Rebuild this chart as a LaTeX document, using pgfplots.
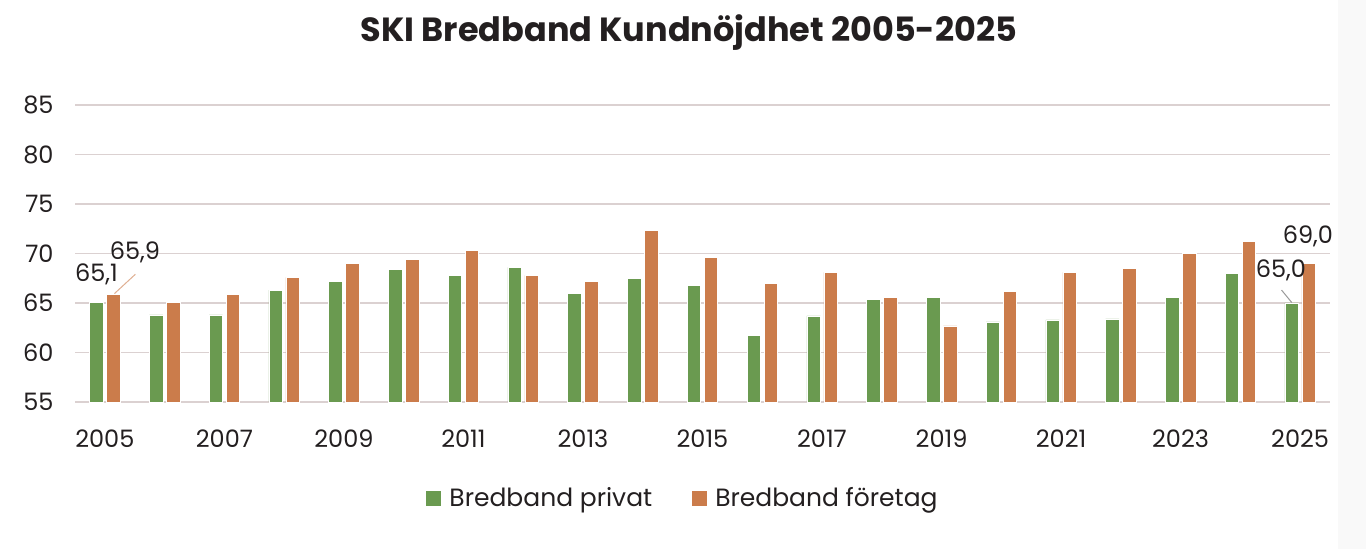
\documentclass[border=0pt]{standalone}
\usepackage{fontspec}
\setmainfont{Poppins}
\usepackage{pgfplots}
\pgfplotsset{compat=1.18}
\definecolor{cgreen}{RGB}{106,154,80}
\definecolor{corange}{RGB}{203,124,75}
\definecolor{cgrid}{RGB}{219,209,209}
\definecolor{ctext}{RGB}{35,31,32}
\begin{document}
\begin{tikzpicture}[x=1pt,y=1pt]
\path[use as bounding box] (0,0) rectangle (1366,549);
\fill[white] (0,0) rectangle (1366,549);
\fill[black!2.5] (1338,0) rectangle (1366,549);
\node[font=\fontsize{33.5}{40}\selectfont\bfseries, text=ctext] at (689,516) {SKI Bredband Kundnöjdhet 2005-2025};
\begin{axis}[
  at={(75pt,147pt)}, anchor=south west,
  scale only axis, width=1255pt, height=297pt,
  ybar=3.5pt, bar width=13.5pt,
  xmin=-0.5, xmax=20.5, ymin=55, ymax=85,
  ytick={55,60,...,85},
  xtick={0,2,...,20},
  xticklabels={2005,2007,2009,2011,2013,2015,2017,2019,2021,2023,2025},
  /pgf/number format/assume math mode=true,
  ymajorgrids, grid style={cgrid, line width=1.3pt},
  axis line style={draw=none},
  major tick length=0pt,
  tick label style={font=\fontsize{24}{28}\selectfont, text=ctext},
  yticklabel style={xshift=-18pt},
  xticklabel style={yshift=-24pt},
  legend style={at={(0.4845,-0.323)}, anchor=center, draw=none, fill=none,
    legend columns=2, font=\fontsize{25}{29}\selectfont, text=ctext,
    /tikz/every odd column/.append style={column sep=7pt},
    /tikz/every even column/.append style={column sep=38pt}},
  clip=false,
]
\addplot[fill=cgreen, draw=white, line width=0.5pt,
  legend image code/.code={\fill[cgreen] (0pt,-7pt) rectangle (13.5pt,6.5pt);}]
  coordinates {(0,65.1)(1,63.8)(2,63.8)(3,66.3)(4,67.2)(5,68.4)(6,67.8)(7,68.6)(8,66.0)(9,67.5)(10,66.8)(11,61.7)(12,63.7)(13,65.4)(14,65.6)(15,63.1)(16,63.3)(17,63.4)(18,65.6)(19,68.0)(20,65.0)};
\addplot[fill=corange, draw=white, line width=0.5pt,
  legend image code/.code={\fill[corange] (0pt,-7pt) rectangle (13.5pt,6.5pt);}]
  coordinates {(0,65.9)(1,65.1)(2,65.9)(3,67.6)(4,69.0)(5,69.4)(6,70.3)(7,67.8)(8,67.2)(9,72.3)(10,69.6)(11,67.0)(12,68.1)(13,65.6)(14,62.7)(15,66.2)(16,68.1)(17,68.5)(18,70.0)(19,71.2)(20,69.0)};
\legend{Bredband privat, Bredband företag}
\draw[corange!60, line width=1pt] (axis cs:0.51,67.9) -- (axis cs:0.16,65.95);
\draw[black!40, line width=1pt] (axis cs:19.69,66.3) -- (axis cs:19.86,65.05);
\node[font=\fontsize{24}{28}\selectfont, text=ctext] at (axis cs:-0.14,67.93) {65,1};
\node[font=\fontsize{24}{28}\selectfont, text=ctext] at (axis cs:0.504,70.15) {65,9};
\node[font=\fontsize{24}{28}\selectfont, text=ctext] at (axis cs:19.68,68.33) {65,0};
\node[font=\fontsize{24}{28}\selectfont, text=ctext] at (axis cs:20.13,71.77) {69,0};
\end{axis}
\end{tikzpicture}
\end{document}
